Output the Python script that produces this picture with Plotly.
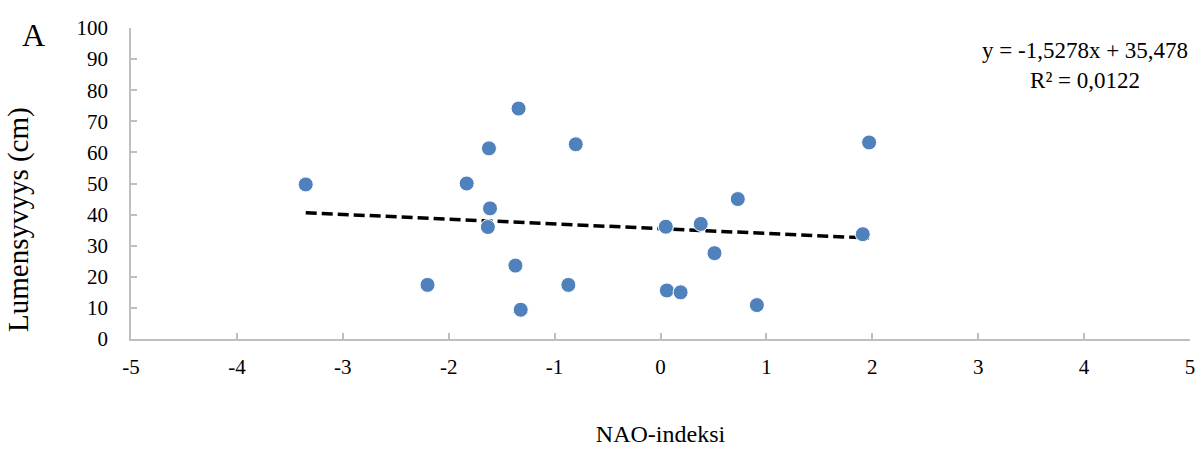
import plotly.graph_objects as go

nao_index = [-3.35, -2.20, -1.83, -1.62, -1.61, -1.63, -1.34, -1.37, -1.32, -0.87, -0.80,
             0.05, 0.06, 0.19, 0.38, 0.51, 0.73, 0.91, 1.91, 1.97]
lumensyvyys = [49.7, 17.4, 50.0, 61.3, 42.0, 36.0, 74.1, 23.6, 9.4, 17.4, 62.6,
               36.1, 15.6, 15.0, 37.0, 27.6, 45.0, 10.9, 33.7, 63.2]

trend_slope = -1.5278
trend_intercept = 35.478
equation_text = "y = -1,5278x + 35,478<br>R² = 0,0122"

x_ticks = [-5, -4, -3, -2, -1, 0, 1, 2, 3, 4, 5]
x_tick_labels = ["-5", "-4", "-3", "-2", "-1", "0", "1", "2", "3", "4", "5"]
y_ticks = [0, 10, 20, 30, 40, 50, 60, 70, 80, 90, 100]

x_min, x_max = min(nao_index), max(nao_index)
trend_x = [x_min, x_max]
trend_y = [trend_slope * v + trend_intercept for v in trend_x]

font_family = "Liberation Serif, Times New Roman, serif"

fig = go.Figure()
fig.add_trace(go.Scatter(
    x=trend_x, y=trend_y, mode="lines",
    line=dict(color="black", width=3.5, dash="11px,5px"),
    showlegend=False, hoverinfo="skip"))
fig.add_trace(go.Scatter(
    x=nao_index, y=lumensyvyys, mode="markers",
    marker=dict(size=15, color="#4f81bd", line=dict(color="white", width=1)),
    showlegend=False))

axis_common = dict(
    showgrid=False, zeroline=False, showline=True,
    linecolor="#bfbfbf", linewidth=1.5,
    ticks="inside", ticklen=6, tickcolor="#bfbfbf", tickwidth=1.5,
    tickfont=dict(family=font_family, size=21, color="black"),
)

fig.update_xaxes(range=[-5, 5], tickvals=x_ticks, ticktext=x_tick_labels, ticklabelstandoff=8,
                 title=dict(text="NAO-indeksi", font=dict(family=font_family, size=24, color="black"),
                            standoff=47),
                 **axis_common)
fig.update_yaxes(range=[0, 100], tickvals=y_ticks, ticklabelstandoff=17,
                 **axis_common)

fig.add_annotation(xref="paper", yref="paper", x=-0.106, y=0.385, xanchor="center", yanchor="middle",
                   text="Lumensyvyys (cm)", textangle=-90, showarrow=False,
                   font=dict(family=font_family, size=29, color="black"))
fig.add_annotation(xref="paper", yref="paper", x=1.0, y=0.881, xanchor="right", yanchor="middle",
                   text=equation_text, showarrow=False, align="center",
                   font=dict(family=font_family, size=23, color="black"))
fig.add_annotation(xref="paper", yref="paper", x=-0.092, y=0.978, xanchor="center", yanchor="middle",
                   text="A", showarrow=False,
                   font=dict(family=font_family, size=32, color="black"))

fig.update_layout(
    width=1201, height=449,
    margin=dict(l=131, r=6, t=28, b=109),
    plot_bgcolor="white", paper_bgcolor="white",
    font=dict(family=font_family, color="black"),
)

fig.write_html("out.html")
